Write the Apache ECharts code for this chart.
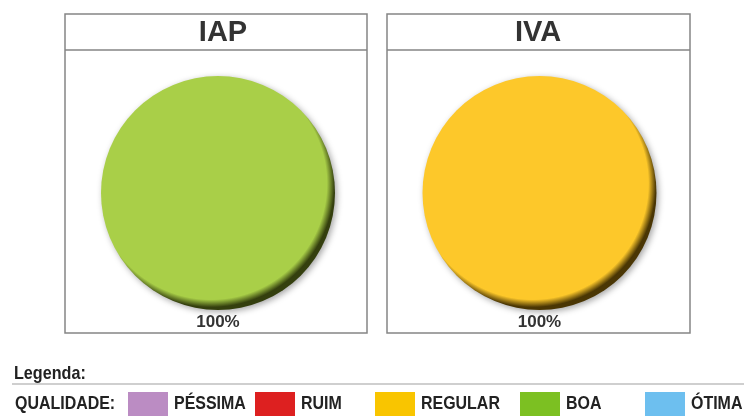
<!DOCTYPE html>
<html><head><meta charset="utf-8">
<script src="https://cdn.jsdelivr.net/npm/echarts@6/dist/echarts.min.js"></script>
<style>html,body{margin:0;padding:0;background:#fff}#c{width:744px;height:416px}</style>
</head><body><div id="c"></div>
<script>
const categories = ['PÉSSIMA', 'RUIM', 'REGULAR', 'BOA', 'ÓTIMA'];
const stations = ['IAP', 'IVA'];
const iapValues = [0, 0, 0, 100, 0];
const ivaValues = [0, 0, 100, 0, 0];
const legendTitle = 'Legenda:';
const legendLabel = 'QUALIDADE:';

const legendColors = ['#bb8cc3', '#dd2020', '#f9c500', '#7cc022', '#6dbfef'];
const pieColors = ['#c09acb', '#e23a2a', '#fdc82a', '#a9cf48', '#7cc6f0'];
const pieShades = ['#4a3050', '#501010', '#4a3604', '#343f0e', '#204860'];

const sans = "'Liberation Sans', Arial, sans-serif";
const condense = 0.84;

const panels = [
  { x: 65, y: 14, w: 302, h: 319, head: 36, cx: 218, cy: 193, tx: 223 },
  { x: 387, y: 14, w: 303, h: 319, head: 36, cx: 539.5, cy: 193, tx: 538 }
];
const legendX = [128, 255, 375, 520, 645];
const allValues = [iapValues, ivaValues];

function shade(c, d) {
  return {
    type: 'radial', x: 0.47, y: 0.46, r: 0.55,
    colorStops: [
      { offset: 0, color: c },
      { offset: 0.9, color: c },
      { offset: 0.96, color: d },
      { offset: 1, color: d }
    ]
  };
}

const graphic = [];
panels.forEach((p, i) => {
  graphic.push({ type: 'rect', shape: { x: p.x, y: p.y, width: p.w, height: p.h },
    style: { fill: 'none', stroke: '#858585', lineWidth: 1.5 }, silent: true });
  graphic.push({ type: 'line', shape: { x1: p.x, y1: p.y + p.head, x2: p.x + p.w, y2: p.y + p.head },
    style: { stroke: '#858585', lineWidth: 1.5 }, silent: true });
  graphic.push({ type: 'text', x: p.tx, y: p.y + p.head / 2 + 1,
    style: { text: stations[i], fill: '#333', font: 'bold 29px ' + sans, textAlign: 'center', textVerticalAlign: 'middle' }, silent: true });
});
graphic.push({ type: 'text', x: 14, y: 374, scaleX: 0.85,
  style: { text: legendTitle, fill: '#222', font: 'bold 19px ' + sans, textAlign: 'left', textVerticalAlign: 'middle' }, silent: true });
graphic.push({ type: 'line', shape: { x1: 12, y1: 384, x2: 744, y2: 384 },
  style: { stroke: '#cfcfcf', lineWidth: 2 }, silent: true });
graphic.push({ type: 'text', x: 15, y: 404, scaleX: condense,
  style: { text: legendLabel, fill: '#222', font: 'bold 19px ' + sans, textAlign: 'left', textVerticalAlign: 'middle' }, silent: true });
categories.forEach((name, k) => {
  graphic.push({ type: 'text', x: legendX[k] + 46, y: 404, scaleX: condense,
    style: { text: name, fill: '#222', font: 'bold 19px ' + sans, textAlign: 'left', textVerticalAlign: 'middle' }, silent: true });
});

const series = panels.map((p, i) => ({
  type: 'pie',
  name: stations[i],
  center: [p.cx, p.cy],
  radius: [0, 117],
  startAngle: 90,
  silent: true,
  emphasis: { disabled: true },
  itemStyle: { shadowBlur: 6, shadowOffsetX: 2, shadowOffsetY: 2, shadowColor: 'rgba(0,0,0,0.35)' },
  label: {
    show: true, position: 'inside',
    formatter: (q) => q.value > 0 ? q.percent + '%' : '',
    fontFamily: sans, fontWeight: 'bold', fontSize: 17, color: '#333'
  },
  labelLine: { show: false },
  labelLayout: { y: 322, align: 'center', verticalAlign: 'middle' },
  data: categories.map((name, k) => ({
    name: name,
    value: allValues[i][k],
    itemStyle: { color: shade(pieColors[k], pieShades[k]) }
  }))
}));

const legend = categories.map((name, k) => ({
  left: legendX[k], top: 392, padding: 0, itemGap: 0,
  itemWidth: 40, itemHeight: 24, icon: 'rect', selectedMode: false,
  formatter: () => '',
  itemStyle: { shadowBlur: 0, shadowColor: 'rgba(0,0,0,0)', shadowOffsetX: 0, shadowOffsetY: 0, borderWidth: 0 },
  textStyle: { fontFamily: sans, fontWeight: 'bold', fontSize: 19, color: '#222' },
  data: [{ name: name, itemStyle: { color: legendColors[k] } }]
}));

const chart = echarts.init(document.getElementById('c'), null, { renderer: 'canvas' });
chart.setOption({
  backgroundColor: '#fff',
  animation: false,
  graphic: graphic,
  legend: legend,
  series: series
});
</script></body></html>
